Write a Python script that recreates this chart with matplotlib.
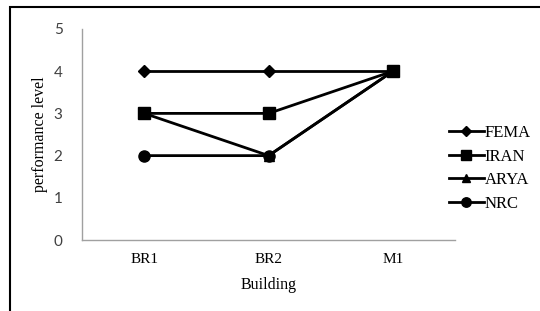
import matplotlib

matplotlib.use("Agg")
import matplotlib.pyplot as plt
from matplotlib.patches import Rectangle

# --- chart data -------------------------------------------------------------
buildings = ["BR1", "BR2", "M1"]
fema = [4, 4, 4]
iran = [3, 3, 4]
arya = [3, 2, 4]
nrc = [2, 2, 4]
y_ticks = [0, 1, 2, 3, 4, 5]

SERIF = "Liberation Serif"
SANS = "Lato"

fig = plt.figure(figsize=(5.4, 3.11), dpi=100)
ax = fig.add_axes([0.152, 0.228, 0.691, 0.679])

x = list(range(len(buildings)))
series = [
    ("FEMA", fema, "D", 6.5, 3),
    ("IRAN", iran, "s", 8.5, 5),
    ("ARYA", arya, "^", 7.5, 3),
    ("NRC", nrc, "o", 8.0, 4),
]
for name, vals, m, ms, z in series:
    ax.plot(x, vals, color="black", lw=2.0, marker=m, ms=ms, label=name,
            zorder=z)

ax.set_xlim(-0.5, len(buildings) - 0.5)
ax.set_ylim(0, 5)
ax.set_xticks(x)
ax.set_xticklabels(buildings, fontfamily=SERIF, fontsize=11)
ax.set_yticks(y_ticks)
ax.set_yticklabels([str(v) for v in y_ticks], fontfamily=SANS, fontsize=11,
                   color="#404040")
ax.tick_params(length=0, pad=9)
ax.tick_params(axis="y", pad=14)
for side in ("top", "right"):
    ax.spines[side].set_visible(False)
for side in ("left", "bottom"):
    ax.spines[side].set_color("#a0a0a0")
    ax.spines[side].set_linewidth(1.0)

ax.set_xlabel("Building", fontfamily=SERIF, fontsize=11.5, labelpad=8)
ax.set_ylabel("performance level", fontfamily=SERIF, fontsize=11.5, labelpad=4)

ax.legend(loc="center left", bbox_to_anchor=(0.965, 0.34), frameon=False,
          prop={"family": SERIF, "size": 12}, handlelength=2.1,
          handletextpad=0.05, labelspacing=0.45, borderaxespad=0,
          markerscale=0.85)

# outer border of the picture (left and top edges visible)
fig.patches.append(Rectangle((10 / 540, -0.1), 1.2, 1 - 7 / 311 + 0.1,
                             transform=fig.transFigure, fill=False,
                             edgecolor="black", lw=1.5))

fig.savefig("out.png", dpi=100)
